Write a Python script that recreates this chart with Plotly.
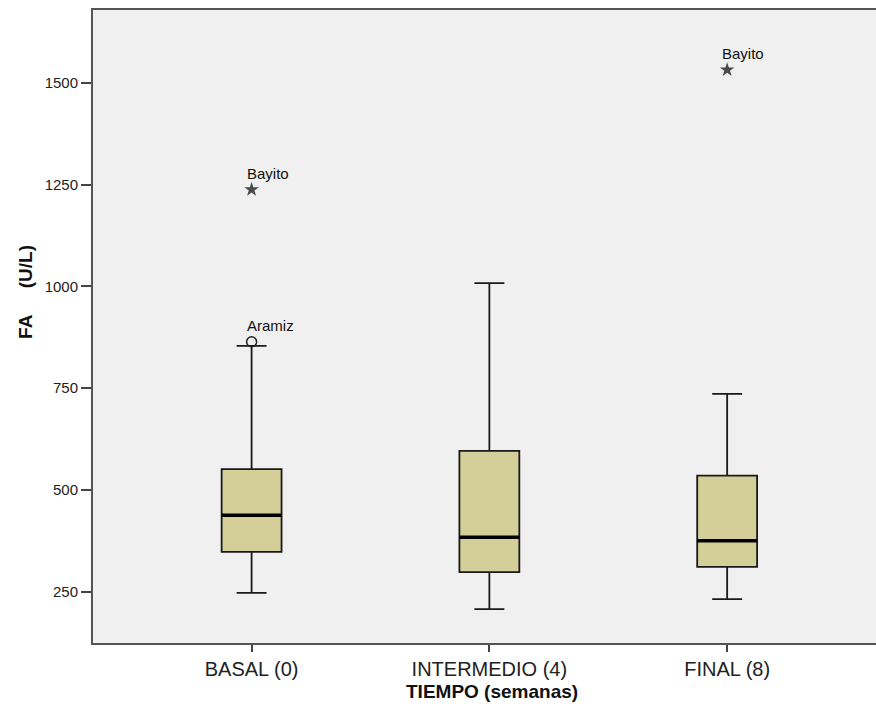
import plotly.graph_objects as go

# ---- data ----
categories = ["BASAL (0)", "INTERMEDIO (4)", "FINAL (8)"]
lower_whisker = [247, 207, 232]
q1 = [348, 298, 311]
median = [438, 384, 375]
q3 = [551, 596, 535]
upper_whisker = [854, 1008, 736]

# outliers: (category index, value, label, kind)
outlier_cat = [0, 0, 2]
outlier_val = [864, 1238, 1532]
outlier_label = ["Aramiz", "Bayito", "Bayito"]
outlier_kind = ["circle", "star", "star"]

y_ticks = [250, 500, 750, 1000, 1250, 1500]

# ---- styles ----
FONT = "Liberation Sans, Arial, sans-serif"
BOX_W = 0.252
positions = list(range(len(categories)))

fig = go.Figure()

fig.add_trace(go.Box(
    x=positions,
    q1=q1, median=median, q3=q3,
    lowerfence=lower_whisker, upperfence=upper_whisker,
    width=BOX_W,
    whiskerwidth=0.5,
    fillcolor="#D4CF98",
    line=dict(color="#1a1a1a", width=1.8),
    boxpoints=False,
    hoverinfo="skip",
    showlegend=False,
))

# thicker median lines
for i, m in zip(positions, median):
    fig.add_trace(go.Scatter(
        x=[i - BOX_W / 2, i + BOX_W / 2], y=[m, m],
        mode="lines", line=dict(color="#000000", width=3.5),
        hoverinfo="skip", showlegend=False,
    ))

# outliers
for c, v, lab, kind in zip(outlier_cat, outlier_val, outlier_label, outlier_kind):
    if kind == "circle":
        marker = dict(symbol="circle-open", size=10, color="#222222",
                      line=dict(width=1.5, color="#222222"))
    else:
        marker = dict(symbol="star", size=11, color="#4a4a4a",
                      line=dict(width=0))
    fig.add_trace(go.Scatter(x=[c], y=[v], mode="markers", marker=marker,
                             hoverinfo="skip", showlegend=False))
    fig.add_annotation(x=c, y=v, text=lab, showarrow=False,
                       xanchor="left", yanchor="middle",
                       xshift=-7, yshift=16,
                       font=dict(family=FONT, size=15, color="#111111"))

# axis titles as annotations
fig.add_annotation(xref="paper", yref="paper", x=0.5096, y=-0.0774,
                   text="<b>TIEMPO (semanas)</b>", showarrow=False,
                   xanchor="center", yanchor="middle",
                   font=dict(family=FONT, size=19, color="#111111"))
fig.add_annotation(xref="paper", yref="paper", x=-0.087, y=0.5545,
                   text="<b>FA" + "\u00a0" * 5 + "(U/L)</b>", showarrow=False,
                   textangle=-90, xanchor="center", yanchor="middle",
                   font=dict(family=FONT, size=19, color="#111111"))

fig.update_layout(
    width=876, height=717,
    margin=dict(l=93, r=0, t=10, b=74),
    paper_bgcolor="#ffffff",
    plot_bgcolor="#F0F0F0",
    font=dict(family=FONT, color="#222222"),
    showlegend=False,
)

fig.update_xaxes(
    range=[-0.667, 2.626],
    tickmode="array", tickvals=positions, ticktext=categories,
    tickfont=dict(family=FONT, size=20, color="#222222"),
    ticks="outside", ticklen=7, tickwidth=1.5, tickcolor="#444444",
    showline=True, linecolor="#555555", linewidth=2, mirror=True,
    showgrid=False, zeroline=False, fixedrange=True,
)
fig.update_yaxes(
    range=[124, 1679],
    tickmode="array", tickvals=y_ticks,
    tickfont=dict(family=FONT, size=15, color="#222222"),
    ticks="outside", ticklen=10, tickwidth=1.5, tickcolor="#444444",
    showline=True, linecolor="#555555", linewidth=2, mirror=False,
    showgrid=False, zeroline=False, fixedrange=True,
)

fig.write_html(
    "out.html",
    config={"displayModeBar": False},
    post_script="document.body.style.margin='0';document.body.style.overflow='hidden';",
)
